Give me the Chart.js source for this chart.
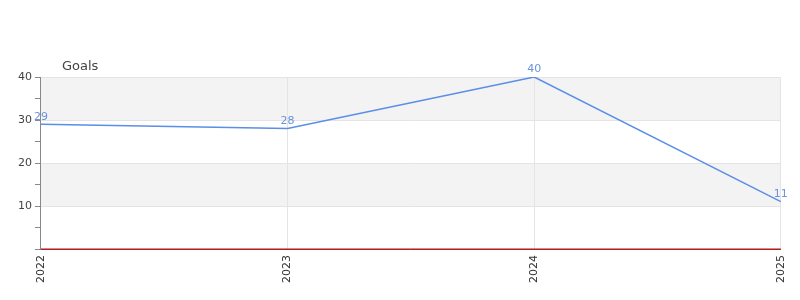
<!DOCTYPE html>
<html>
<head>
<meta charset="utf-8">
<script src="https://cdn.jsdelivr.net/npm/chart.js@4"></script>
<style>
  body { margin: 0; background: #fff; }
  #wrap { width: 800px; height: 300px; }
</style>
</head>
<body>
<div id="wrap"><canvas id="chart"></canvas></div>
<script>
var anos = ['2022', '2023', '2024', '2025'];
var gols = [29, 28, 40, 11];
var base = [0, 0, 0, 0];
var titulo = 'Goals';

// faixas cinza no fundo
var faixas = {
    id: 'faixas',
    beforeDraw: function (chart) {
        var ctx = chart.ctx, a = chart.chartArea, y = chart.scales.y;
        ctx.save();
        ctx.fillStyle = '#f3f3f3';
        [[30, 40], [10, 20]].forEach(function (f) {
            var t = y.getPixelForValue(f[1]), b = y.getPixelForValue(f[0]);
            ctx.fillRect(a.left, t, a.right - a.left, b - t);
        });
        ctx.fillStyle = '#444';
        ctx.font = '13px "DejaVu Sans"';
        ctx.textBaseline = 'middle';
        ctx.fillText(titulo, 62, 67);
        ctx.restore();
    }
};

// rotulos dos valores
var rotulos = {
    id: 'rotulos',
    afterDatasetsDraw: function (chart) {
        var ctx = chart.ctx;
        var meta = chart.getDatasetMeta(0);
        ctx.save();
        ctx.fillStyle = '#6b93dd';
        ctx.font = '11px "DejaVu Sans"';
        ctx.textAlign = 'center';
        ctx.textBaseline = 'bottom';
        meta.data.forEach(function (p, i) {
            ctx.fillText(gols[i], p.x, p.y - 2);
        });
        ctx.restore();
    }
};

var ctx = document.getElementById('chart').getContext('2d');
var grafico = new Chart(ctx, {
    type: 'line',
    data: {
        labels: anos,
        datasets: [{
            label: titulo,
            data: gols,
            borderColor: '#5b8ee6',
            borderWidth: 1.5,
            pointRadius: 0,
            tension: 0
        }, {
            label: 'base',
            data: base,
            borderColor: '#e00000',
            borderWidth: 1.2,
            pointRadius: 0,
            clip: false
        }]
    },
    plugins: [faixas, rotulos],
    options: {
        responsive: true,
        maintainAspectRatio: false,
        animation: false,
        layout: { padding: { top: 77, right: 14, left: 15, bottom: 11 } },
        plugins: { legend: { display: false }, tooltip: { enabled: false } },
        scales: {
            x: {
                offset: false,
                grid: { color: '#e4e4e4', drawTicks: false },
                border: { color: '#555', width: 1 },
                ticks: {
                    minRotation: 90, maxRotation: 90, padding: 6,
                    color: '#333', font: { family: 'DejaVu Sans', size: 11 }
                }
            },
            y: {
                min: 0, max: 40,
                grid: {
                    color: function (c) { return (c.tick.value % 10 === 0 && c.tick.value > 0) ? '#e4e4e4' : 'rgba(0,0,0,0)'; },
                    tickColor: '#888',
                    tickLength: 6
                },
                border: { color: '#888' },
                ticks: {
                    stepSize: 5,
                    padding: 3,
                    color: '#444',
                    font: { family: 'DejaVu Sans', size: 11 },
                    callback: function (v) { return (v % 10 === 0 && v > 0) ? v : ''; }
                }
            }
        }
    }
});
</script>
</body>
</html>
